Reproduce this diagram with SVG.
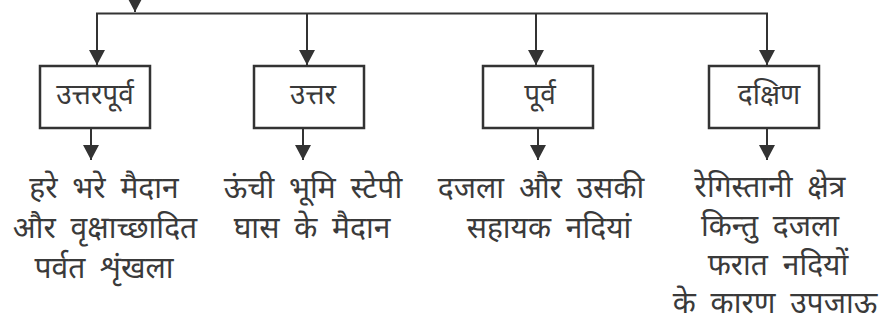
<svg xmlns="http://www.w3.org/2000/svg" width="890" height="321" viewBox="0 0 890 321">
<style>
.box{fill:#fff;stroke:#333;stroke-width:2.5}
.ln{fill:none;stroke:#333;stroke-width:2}
.t{font-family:"Noto Sans",sans-serif;font-size:30px;fill:#3a3a3a;text-anchor:middle;word-spacing:7px}
.bt{font-family:"Noto Sans",sans-serif;font-size:28px;fill:#3a3a3a;text-anchor:middle}
</style>
<defs>
<marker id="ah" viewBox="0 0 15 16" markerUnits="userSpaceOnUse" markerWidth="15" markerHeight="16" refX="15" refY="8" orient="auto">
<path d="M0,0 L15,8 L0,16 z" fill="#333"/>
</marker>
</defs>
<rect width="890" height="321" fill="#fff"/>
<g id="connectors">
<line class="ln" x1="135" y1="-10" x2="135" y2="12" marker-end="url(#ah)"/>
<line class="ln" x1="96" y1="13.5" x2="768" y2="13.5"/>
<line class="ln" x1="97" y1="13.5" x2="97" y2="65" marker-end="url(#ah)"/>
<line class="ln" x1="307" y1="13.5" x2="307" y2="65" marker-end="url(#ah)"/>
<line class="ln" x1="536" y1="13.5" x2="536" y2="65" marker-end="url(#ah)"/>
<line class="ln" x1="767" y1="13.5" x2="767" y2="65" marker-end="url(#ah)"/>
<line class="ln" x1="91" y1="129" x2="91" y2="160" marker-end="url(#ah)"/>
<line class="ln" x1="303" y1="129" x2="303" y2="160" marker-end="url(#ah)"/>
<line class="ln" x1="538" y1="129" x2="538" y2="160" marker-end="url(#ah)"/>
<line class="ln" x1="767" y1="129" x2="767" y2="160" marker-end="url(#ah)"/>
</g>
<g id="n1"><rect class="box" x="40" y="66" width="110" height="62"/><text class="bt" x="95" y="104">उत्तरपूर्व</text></g>
<g id="n2"><rect class="box" x="254" y="66" width="110" height="62"/><text class="bt" x="313" y="104">उत्तर</text></g>
<g id="n3"><rect class="box" x="483" y="66" width="110" height="62"/><text class="bt" x="540" y="104">पूर्व</text></g>
<g id="n4"><rect class="box" x="709" y="66" width="110" height="62"/><text class="bt" x="769" y="104">दक्षिण</text></g>
<g id="d1"><text class="t" x="104" y="198">हरे भरे मैदान</text><text class="t" x="105" y="238">और वृक्षाच्छादित</text><text class="t" x="104" y="278">पर्वत शृंखला</text></g>
<g id="d2"><text class="t" x="313" y="198">ऊंची भूमि स्टेपी</text><text class="t" x="312" y="238">घास के मैदान</text></g>
<g id="d3"><text class="t" x="541" y="198">दजला और उसकी</text><text class="t" x="549" y="238">सहायक नदियां</text></g>
<g id="d4"><text class="t" x="770" y="197">रेगिस्तानी क्षेत्र</text><text class="t" x="770" y="236">किन्तु दजला</text><text class="t" x="778" y="275">फरात नदियों</text><text class="t" x="775" y="313">के कारण उपजाऊ</text></g>
</svg>
